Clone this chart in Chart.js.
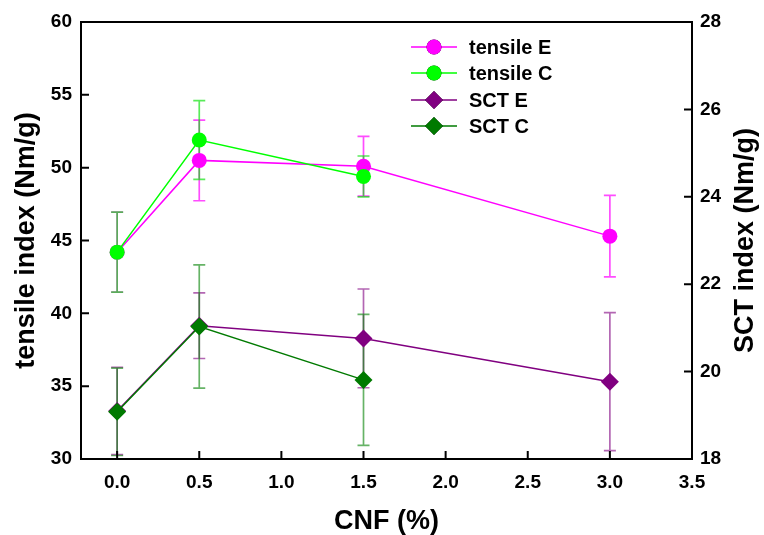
<!DOCTYPE html>
<html><head><meta charset="utf-8">
<script src="https://cdn.jsdelivr.net/npm/chart.js@4.4.1/dist/chart.umd.min.js"></script>
<style>html,body{margin:0;padding:0;background:#fff;}</style>
</head><body>
<canvas id="c" width="764" height="535" style="display:block;width:764px;height:535px"></canvas>
<script>
// ---- data ----
const cnfTensileE = [0, 0.5, 1.5, 3.0];
const tensileE    = [44.2, 50.5, 50.1, 45.3];
const tensileEErr = [2.75, 2.77, 2.05, 2.8];
const cnfTensileC = [0, 0.5, 1.5];
const tensileC    = [44.2, 51.9, 49.4];
const tensileCErr = [2.75, 2.7, 1.4];
const cnfSctE = [0, 0.5, 1.5, 3.0];
const sctE    = [19.1, 21.05, 20.76, 19.77];
const sctEErr = [1.0, 0.75, 1.13, 1.58];
const cnfSctC = [0, 0.5, 1.5];
const sctC    = [19.08, 21.03, 19.81];
const sctCErr = [1.0, 1.41, 1.5];
const seriesNames = ['tensile E', 'tensile C', 'SCT E', 'SCT C'];
const xTicks = [0, 0.5, 1.0, 1.5, 2.0, 2.5, 3.0, 3.5];
const leftTicks = [30, 35, 40, 45, 50, 55, 60];
const rightTicks = [18, 20, 22, 24, 26, 28];
const rightTitle = 'SCT index (Nm/g)';

const FONT = "'Liberation Sans', Arial, sans-serif";
const pts = (xs, ys) => xs.map((x, i) => ({x: x, y: ys[i]}));

const errorBars = {
  id: 'errorBars',
  beforeDatasetsDraw(chart) {
    const ctx = chart.ctx;
    const xs = chart.scales.x;
    chart.data.datasets.forEach((ds) => {
      const ys = chart.scales[ds.yAxisID];
      ctx.save();
      ctx.strokeStyle = ds.errColor;
      ctx.lineWidth = 1.7;
      ds.data.forEach((p, j) => {
        const e = ds.errors[j];
        const px = xs.getPixelForValue(p.x);
        const yT = ys.getPixelForValue(p.y + e);
        const yB = ys.getPixelForValue(p.y - e);
        ctx.beginPath();
        ctx.moveTo(px, yT); ctx.lineTo(px, yB);
        ctx.moveTo(px - 6, yT); ctx.lineTo(px + 6, yT);
        ctx.moveTo(px - 6, yB); ctx.lineTo(px + 6, yB);
        ctx.stroke();
      });
      ctx.restore();
    });
  }
};

const frameTicks = {
  id: 'frameTicks',
  afterDraw(chart) {
    const ctx = chart.ctx;
    const a = chart.chartArea;
    ctx.save();
    ctx.strokeStyle = '#000';
    ctx.lineWidth = 2;
    ctx.beginPath();
    ctx.moveTo(a.left - 1, a.top); ctx.lineTo(a.right + 1, a.top);
    ctx.stroke();
    const L = 8;
    ctx.beginPath();
    chart.scales.x.ticks.forEach(t => {
      const px = chart.scales.x.getPixelForValue(t.value);
      ctx.moveTo(px, a.bottom); ctx.lineTo(px, a.bottom - L);
    });
    chart.scales.y.ticks.forEach(t => {
      const py = chart.scales.y.getPixelForValue(t.value);
      ctx.moveTo(a.left, py); ctx.lineTo(a.left + L, py);
    });
    chart.scales.y1.ticks.forEach(t => {
      const py = chart.scales.y1.getPixelForValue(t.value);
      ctx.moveTo(a.right, py); ctx.lineTo(a.right - L, py);
    });
    ctx.stroke();
    // right axis title, reading bottom-to-top like the reference
    ctx.translate(746, (a.top + a.bottom) / 2);
    ctx.rotate(-Math.PI / 2);
    ctx.fillStyle = '#000';
    ctx.font = 'bold 27px ' + FONT;
    ctx.textAlign = 'center';
    ctx.textBaseline = 'middle';
    ctx.fillText(rightTitle, 0, 0);
    ctx.restore();
  }
};

const lineLegend = {
  id: 'lineLegend',
  afterDraw(chart) {
    const ctx = chart.ctx;
    const x0 = 411, x1 = 457, xm = 434, tx = 469;
    const rows = [47, 73, 100, 126];
    chart.data.datasets.forEach((ds, i) => {
      const y = rows[i];
      ctx.save();
      ctx.strokeStyle = ds.borderColor;
      ctx.lineWidth = 1.5;
      ctx.beginPath(); ctx.moveTo(x0, y); ctx.lineTo(x1, y); ctx.stroke();
      Chart.helpers.drawPoint(ctx, {pointStyle: ds.pointStyle, radius: ds.pointRadius, borderWidth: 0, rotation: 0}, xm, y);
      ctx.fillStyle = ds.pointBackgroundColor;
      ctx.fill();
      ctx.fillStyle = '#000';
      ctx.font = 'bold 20px ' + FONT;
      ctx.textBaseline = 'middle';
      ctx.textAlign = 'left';
      ctx.fillText(seriesNames[i], tx, y + 1);
      ctx.restore();
    });
  }
};

function mk(label, data, errs, color, errColor, style, radius, axis, order) {
  return {
    label: label, data: data, errors: errs, errColor: errColor,
    borderColor: color, backgroundColor: color,
    pointBackgroundColor: color, pointBorderColor: color, pointBorderWidth: 0,
    pointStyle: style, pointRadius: radius, pointHoverRadius: radius,
    borderWidth: 1.5, yAxisID: axis, order: order, tension: 0
  };
}

new Chart(document.getElementById('c'), {
  type: 'line',
  data: {
    datasets: [
      mk(seriesNames[0], pts(cnfTensileE, tensileE), tensileEErr, '#ff00ff', 'rgba(255,0,255,0.7)', 'circle', 7.5, 'y', 4),
      mk(seriesNames[1], pts(cnfTensileC, tensileC), tensileCErr, '#00ff00', 'rgba(0,225,0,0.65)', 'circle', 7.5, 'y', 3),
      mk(seriesNames[2], pts(cnfSctE, sctE), sctEErr, '#800080', 'rgba(128,0,128,0.6)', 'rectRot', 9, 'y1', 2),
      mk(seriesNames[3], pts(cnfSctC, sctC), sctCErr, '#007a00', 'rgba(0,128,0,0.6)', 'rectRot', 9, 'y1', 1)
    ]
  },
  options: {
    responsive: false,
    animation: false,
    devicePixelRatio: 1,
    layout: {padding: {top: 22, left: 0, right: 0, bottom: 0}},
    plugins: {legend: {display: false}, tooltip: {enabled: false}},
    scales: {
      x: {
        type: 'linear', min: -0.22, max: 3.5,
        afterBuildTicks: s => { s.ticks = xTicks.map(v => ({value: v})); },
        afterFit: s => { s.height = 76; },
        grid: {display: false, drawTicks: false},
        border: {display: true, color: '#000', width: 2},
        ticks: {autoSkip: false, maxRotation: 0, padding: 12, color: '#000',
          font: {family: FONT, size: 19, weight: 'bold'},
          callback: v => Number(v).toFixed(1)},
        title: {display: true, text: 'CNF (%)', color: '#000',
          font: {family: FONT, size: 27, weight: 'bold', lineHeight: 1},
          padding: {top: 0, bottom: 0}}
      },
      y: {
        type: 'linear', position: 'left', min: 30, max: 60,
        afterBuildTicks: s => { s.ticks = leftTicks.map(v => ({value: v})); },
        afterFit: s => { s.width = 81; },
        grid: {display: false, drawTicks: false},
        border: {display: true, color: '#000', width: 2},
        ticks: {padding: 9, color: '#000', font: {family: FONT, size: 19, weight: 'bold'}},
        title: {display: true, text: 'tensile index (Nm/g)', color: '#000',
          font: {family: FONT, size: 27, weight: 'bold', lineHeight: 1},
          padding: {top: 13, bottom: 0}}
      },
      y1: {
        type: 'linear', position: 'right', min: 18, max: 28,
        afterBuildTicks: s => { s.ticks = rightTicks.map(v => ({value: v})); },
        afterFit: s => { s.width = 72; },
        grid: {display: false, drawTicks: false},
        border: {display: true, color: '#000', width: 2},
        ticks: {padding: 8, color: '#000', font: {family: FONT, size: 19, weight: 'bold'}},
        title: {display: false}
      }
    }
  },
  plugins: [errorBars, frameTicks, lineLegend]
});
</script>
</body></html>
